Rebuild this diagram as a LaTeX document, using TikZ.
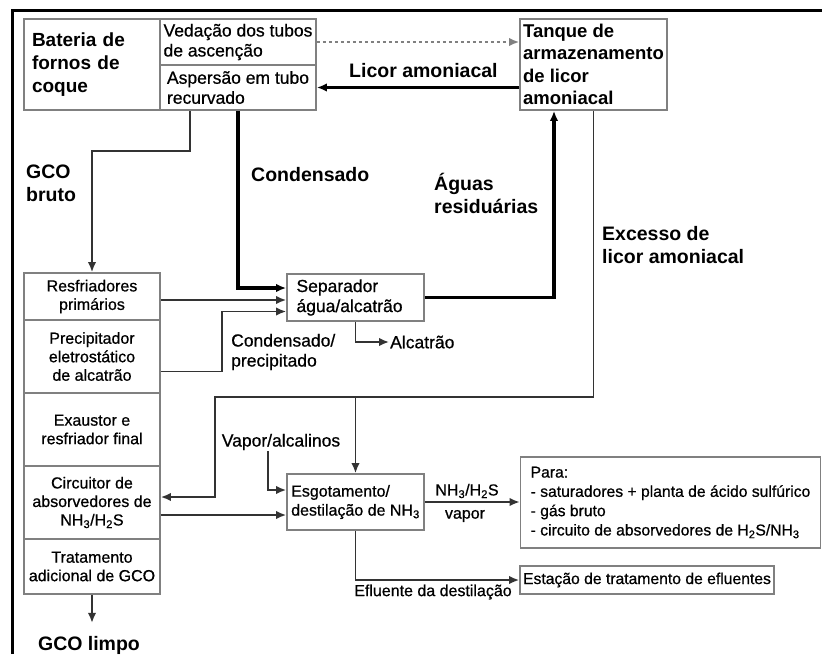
\documentclass[tikz,border=0pt]{standalone}
\usepackage{fontspec}
\setmainfont{Liberation Sans}
\newfontfamily\rfont{Liberation Sans}[FakeBold=0.7]
\usetikzlibrary{arrows.meta}
\begin{document}
\begin{tikzpicture}[x=1pt, y=-1pt, >={Latex[length=10,width=8.5]},
  box/.style={draw=black!50, line width=1.7, inner sep=2, align=center, font=\rfont\fontsize{16}{18.5}\selectfont},
  lbl/.style={font=\bfseries\fontsize{19.5}{23}\selectfont, align=left, inner sep=1},
  midlbl/.style={font=\rfont\fontsize{17.5}{20}\selectfont, align=left, inner sep=1},
  smlbl/.style={font=\rfont\fontsize{16}{19}\selectfont, inner sep=1},
  conn/.style={draw=black!80, line width=1.8},
  heavy/.style={draw=black, line width=3.4}]
\useasboundingbox (0,0) rectangle (822,654);
\draw[line width=3](12,654)--(12,10)--(822,10);

% top row
\node[box, minimum width=136, minimum height=91, text width=120, align=left, font=\bfseries\fontsize{19}{23}\selectfont] (bat) at (92,64.5) {Bateria de\\fornos de\\coque};
\node[box, minimum width=156, minimum height=46, align=left, font=\rfont\fontsize{17.5}{20}\selectfont] (ved) at (238,42) {Vedação dos tubos\\de ascenção};
\node[box, minimum width=156, minimum height=45, align=left, font=\rfont\fontsize{17.5}{20}\selectfont] (asp) at (238,87.5) {Aspersão em tubo\\recurvado};
\node[box, minimum width=147, minimum height=91, inner sep=1, align=left, font=\bfseries\fontsize{18.5}{22.5}\selectfont] (tank) at (593.5,64.5) {Tanque de\\armazenamento\\de licor\\amoniacal};

% left column
\node[box, minimum width=136, minimum height=47] (res) at (92,296.5) {Resfriadores\\primários};
\node[box, minimum width=136, minimum height=73] (pre) at (92,356.5) {Precipitador\\eletrostático\\de alcatrão};
\node[box, minimum width=136, minimum height=73] (exa) at (92,429.5) {Exaustor e\\resfriador final};
\node[box, minimum width=136, minimum height=73] (cir) at (92,502.5) {Circuitor de\\absorvedores de\\NH\textsubscript{3}/H\textsubscript{2}S};
\node[box, minimum width=136, minimum height=55] (tra) at (92,566.5) {Tratamento\\adicional de GCO};

% middle and right
\node[box, minimum width=137, minimum height=47, text width=118, align=left, font=\rfont\fontsize{17.5}{20}\selectfont] (sep) at (355.5,297.5) {Separador\\água/alcatrão};
\node[box, minimum width=137, minimum height=56, align=left, font=\rfont\fontsize{16}{19}\selectfont] (esg) at (355.5,502) {Esgotamento/\\destilação de NH\textsubscript{3}};
\node[box, minimum width=300, minimum height=91, align=left, font=\rfont\fontsize{15.7}{19.3}\selectfont] (para) at (670.5,502.5) {Para:\\- saturadores + planta de ácido sulfúrico\\- gás bruto\\- circuito de absorvedores de H\textsubscript{2}S/NH\textsubscript{3}};
\node[box, minimum width=254, minimum height=28, font=\rfont\fontsize{15.7}{19}\selectfont] (est) at (647,580) {Estação de tratamento de efluentes};

% labels
\node[lbl, anchor=west] (licor) at (348,71) {Licor amoniacal};
\node[lbl, anchor=west] (bruto) at (25,183.5) {GCO\\bruto};
\node[lbl, anchor=west] (cond) at (250,175) {Condensado};
\node[lbl, anchor=west] (aguas) at (433,193) {Águas\\residuárias};
\node[lbl, anchor=west] (exc) at (601,245) {Excesso de\\licor amoniacal};
\node[midlbl, anchor=west] (condp) at (230,352) {Condensado/\\precipitado};
\node[midlbl, anchor=west] (alc) at (389,342) {Alcatrão};
\node[midlbl] (vap) at (281,442) {Vapor/alcalinos};
\node[smlbl] (nh) at (467,491) {NH\textsubscript{3}/H\textsubscript{2}S};
\node[smlbl] (vp) at (465,516) {vapor};
\node[smlbl] (eflu) at (433,592) {Efluente da destilação};
\node[lbl] (limpo) at (89,645) {GCO limpo};

% connectors
\draw[conn, draw=black!50, dashed, ->] (ved.east) -- (ved.east -| tank.west);
\draw[heavy, ->] (tank.west |- asp.east) -- (asp.east);
\draw[conn, ->] ([xshift=-48]asp.south) -- ++(0,40) -| (res.north);
\draw[heavy, ->] (asp.south) |- ([yshift=9.5]sep.west);
\draw[conn, ->] ([yshift=-3.5]res.east) -- ([yshift=-2.5]sep.west);
\draw[conn, ->] ([yshift=-15]pre.east) -- ++(61,0) |- ([yshift=-14]sep.west);
\draw[conn, ->] (sep.south) |- (alc.west);
\draw[heavy, ->] (sep.east) -| ([xshift=-39.5]tank.south);
\coordinate (exc1) at (215,397);
\draw[conn, ->] (tank.south) |- (exc1) |- ([yshift=5.5]cir.east);
\draw[conn, ->] (esg.north |- exc1) -- (esg.north);
\draw[conn, ->] ([xshift=-13]vap.south) |- ([yshift=12]esg.west);
\draw[conn, ->] ([yshift=-12.5]cir.east) -- ([yshift=-13]esg.west);
\draw[conn, ->] (esg.east) -- (esg.east -| para.west);
\draw[conn, ->] (esg.south) |- (est.west);
\draw[conn, ->] (tra.south) -- ++(0,28);

\end{tikzpicture}
\end{document}
